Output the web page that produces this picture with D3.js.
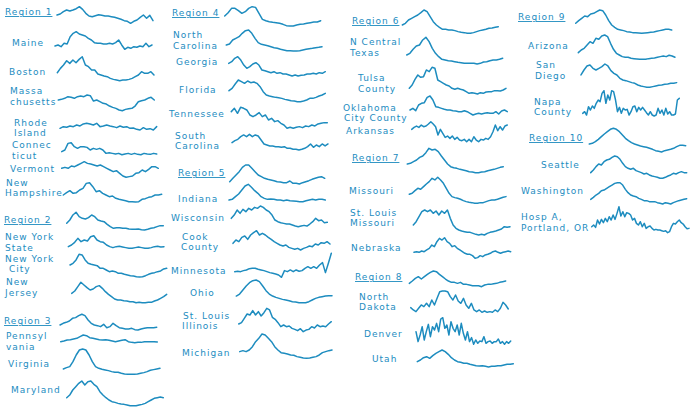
<!DOCTYPE html>
<html lang="en">
  <head>
    <meta charset="UTF-8" />
    <title>Flu sparklines by region</title>
    <script src="https://d3js.org/d3.v7.min.js"></script>
    <style>
      body { margin: 0; background: white; }
      text { font-family: "DejaVu Sans", Verdana, sans-serif; font-size: 9px; letter-spacing: 1px; fill: #1d8cbf; }
      .region { text-decoration: underline; }
      .spark { fill: none; stroke: #1d8cbf; stroke-width: 1.5; stroke-linejoin: round; stroke-linecap: round; }
    </style>
  </head>
  <body>
    <div class="visHolder"></div>

    <script>
      // ----------- Series values (weekly activity) ----------- //

      var region1 = [27,30,37,42,39,42,46,52,44,32,24,22,25,28,26,24,24,22,20,17,14,10,8,2,8,12,20,27,17,26,10];
      var maine = [12,15,10,20,18,40,50,55,48,45,42,35,30,22,20,20,18,18,20,18,22,30,15,2,8,5,10,8,12,10,20,10,15];
      var boston = [27,40,50,63,55,65,57,67,75,50,45,35,35,23,20,17,15,10,7,5,3,5,5,7,10,15,20,30,25,25,30,20];
      var massachusetts = [35,37,40,45,43,40,45,47,45,50,48,32,35,30,25,23,17,13,10,5,3,7,9,10,17,30,33,35,40,43,35];
      var rhodeIsland = [10,15,13,17,15,20,17,23,25,23,20,25,15,17,20,17,15,12,17,13,15,10,11,7,5,12,7,9,5,15];
      var connecticut = [13,18,38,40,28,23,28,28,26,18,23,20,23,18,8,10,8,6,8,4,6,8,5,8,5,4,8,6,5,8,6];
      var vermont = [30,33,30,37,35,40,45,50,45,43,40,37,40,35,30,25,20,23,15,7,3,5,7,15,17,25,20,27,35,35,30];
      var newHampshire = [25,32,38,30,32,40,45,60,62,50,35,38,30,25,20,22,15,12,10,8,5,5,4,5,12,14,18,20,25,25,27];

      var region2 = [20,30,45,53,40,35,33,37,45,40,30,27,25,17,10,5,7,7,5,5,3,2,2,3,1,0,2,5,7,10,13,13];
      var newYorkState = [5,10,18,30,20,25,22,35,38,25,20,18,10,5,2,5,6,4,2,0,0,2,4,2,0,0,2,5,6,4,5];
      var newYorkCity = [38,43,53,70,68,53,43,40,38,36,28,28,23,18,20,18,13,13,10,8,6,5,3,2,3,6,10,13,15,18,20,26,28];
      var newJersey = [30,37,50,63,55,47,40,43,50,53,45,35,27,20,13,10,10,8,7,5,5,2,3,2,2,3,3,7,10,15,20,27];

      var region3 = [15,20,23,27,35,37,43,47,43,30,20,15,13,10,17,7,10,20,13,7,5,3,3,5,1,0,3,5,7,7,7,8];
      var pennsylvania = [5,7,10,11,13,15,20,25,23,17,15,13,11,10,11,9,7,5,7,9,11,5,3,2,3,3,5,5,5,5,4];
      var virginia = [18,22,25,40,60,75,78,75,60,40,25,20,17,15,13,10,8,8,5,3,2,2,2,3,5,7,10,14,16,18,20];
      var maryland = [27,35,50,60,70,77,65,75,77,67,60,45,35,27,20,15,13,10,8,7,5,3,3,3,5,7,10,15,20,25,27,29,27];

      var region4 = [32,42,55,55,48,40,45,55,60,58,40,22,18,15,13,12,10,7,3,2,2,5,7,8,10,12,14,14,18];
      var northCarolina = [20,23,35,40,45,55,63,65,55,40,27,22,20,18,15,12,10,7,5,3,3,2,2,3,5,7,9,10,12,13,15];
      var georgia = [40,45,55,60,50,35,25,30,38,42,35,20,18,15,12,15,10,12,8,8,5,2,5,2,4,5,8,8,10,8,12,10,15];
      var florida = [36,43,56,68,63,58,65,60,62,58,48,33,23,20,18,16,15,13,10,8,6,5,3,3,5,8,13,13,16,20,23,28];
      var tennessee = [57,67,52,70,67,62,47,42,47,54,42,47,32,37,27,30,22,17,7,10,7,10,12,9,14,12,17,14,20,22,24,24];
      var southCarolina = [24,30,34,42,47,42,49,42,47,44,32,20,17,14,14,12,12,10,12,7,7,4,4,2,4,7,12,20,10,17,12,20,14,20];

      var region5 = [10,20,30,40,53,60,60,50,40,30,25,20,17,15,13,10,9,7,7,12,5,5,3,7,10,13,17,20,23,25,20];
      var indiana = [6,8,16,24,36,48,53,44,34,26,16,11,8,9,8,6,6,4,6,4,3,2,1,1,4,6,8,6,8,8,6];
      var wisconsin = [27,37,52,42,54,47,57,52,60,57,64,60,52,47,37,22,17,14,12,10,10,7,4,2,4,6,4,10,17,27,20,22,14,15];
      var cookCounty = [22,32,27,40,44,34,47,54,60,47,52,47,40,34,27,22,17,14,17,10,7,4,7,2,7,10,14,12,20,17,24,22,27,20];
      var minnesota = [17,18,17,20,22,26,27,27,24,22,20,17,14,12,10,7,0,20,17,22,17,22,18,20,27,32,27,32,27,37,44,14,42,72];
      var ohio = [22,28,40,52,62,68,70,65,52,38,28,22,18,15,12,10,8,5,4,2,2,2,5,10,15,18,20,22,23,23];
      var stLouisIllinois = [26,30,43,56,53,66,53,63,50,60,73,68,46,40,30,18,23,18,20,13,10,6,12,3,8,10,18,14,23,18,20,18,26,33];
      var michigan = [23,26,23,28,38,53,63,76,73,63,53,38,28,20,18,16,13,12,8,6,4,3,4,6,8,13,20,23,26,28];

      var region6 = [25,30,40,45,50,55,62,70,65,50,35,25,18,12,12,10,10,8,5,3,2,0,0,2,5,8,10,12,15,16,18,20];
      var nCentralTexas = [27,32,44,54,57,72,80,67,47,32,22,14,12,10,9,7,5,4,2,2,2,2,0,2,6,7,10,12,12,14,17];
      var tulsaCounty = [20,30,47,60,53,55,75,70,83,80,45,40,35,30,27,20,17,20,17,15,10,5,7,5,3,7,5,9,10,10,13,13,12,15,20];
      var oklahomaCity = [20,25,18,35,40,42,58,62,50,30,28,25,22,20,20,18,17,15,15,18,15,10,5,8,10,8,10,12,10,10,15,8,17,20,15];
      var arkansas = [37,43,47,43,50,45,47,53,60,53,45,20,37,25,13,17,10,17,7,13,5,3,7,0,7,0,15,5,0,7,5,10,7,15,30,50,33,45,35,47,50];

      var region7 = [28,30,35,40,48,52,62,75,70,72,65,52,40,28,20,17,15,12,10,8,5,4,2,2,4,5,8,10,12,15,18,20];
      var missouri = [27,30,38,45,42,50,58,65,75,70,78,70,60,45,30,20,17,15,12,8,5,3,2,0,0,2,2,5,8,10,10,12,15,18,20];
      var stLouisMissouri = [32,42,57,72,77,72,77,67,74,62,74,67,77,52,32,22,17,14,12,10,10,7,4,2,4,2,7,10,12,14,17,20,27,25,27];
      var nebraska = [23,25,23,27,25,30,35,45,40,55,65,60,67,55,50,40,43,35,30,25,20,17,17,13,5,7,13,10,15,17,20,25,27,23,20,23,25,27,25];

      var region8 = [10,17,25,30,23,30,37,43,47,45,37,30,23,17,13,13,10,13,7,7,5,3,3,3,0,5,7,7,9,10,13,15,17];
      var northDakota = [17,10,5,15,25,20,30,20,40,25,45,65,67,67,65,50,40,55,37,30,45,25,15,30,10,5,10,3,7,3,5,3,10,5,15,33,25,13];
      var denver = [40,10,30,55,15,40,62,25,55,45,65,40,78,82,50,60,30,70,50,40,60,30,65,35,15,40,10,22,2,15,5,12,10,25,5,10,12,5,10,10,18,5,10,2,10,5,12];
      var utah = [20,25,32,35,30,38,45,50,55,50,42,32,25,20,18,15,15,12,10,8,7,8,6,4,6,6,8,8,10,12,12,14];

      var region9 = [30,38,45,52,50,58,60,65,70,68,55,38,25,18,12,10,8,5,4,2,2,1,0,1,2,3,4,6,8,10,12,12,10];
      var arizona = [22,30,35,45,55,50,65,62,72,75,70,50,32,20,15,10,8,8,5,4,3,2,2,2,4,5,6,8,10,12,10,14,12,8];
      var sanDiego = [40,55,67,70,60,55,60,65,73,67,53,45,40,30,25,23,20,17,15,10,7,5,3,3,5,7,9,10,12,13,15,15,17];
      var napaCounty = [10,15,5,30,20,32,25,40,50,45,70,78,40,65,50,78,75,50,15,28,10,25,20,22,5,15,30,32,15,28,20,28,20,12,5,15,5,2,5,25,10,20,5,25,8,15,5,5,8,50,55];

      var region10 = [26,28,33,40,48,56,63,70,73,70,63,53,43,36,30,26,23,20,18,16,13,10,6,4,2,6,8,10,13,18,22,22,21];
      var seattle = [22,30,40,48,45,55,60,62,68,72,70,62,50,40,35,32,35,28,25,22,18,20,15,12,10,8,5,5,8,12,15,20,18,22,25,22,22];
      var washington = [17,23,30,35,43,45,50,55,60,65,67,67,60,47,37,30,27,25,20,17,13,13,10,10,10,7,5,3,7,5,3,7,10,13,15,17,19];
      var portland = [25,30,23,45,33,47,37,50,40,55,45,60,47,65,85,57,70,55,67,65,60,45,50,35,30,40,25,35,20,25,27,20,15,17,15,15,13,11,13,7,10,25,35,33,40,45,37,33,25,19,20];

      // ----------- Layout: label lines [text, x, baseline] and sparkline box [x0, x1, top, bottom] ----------- //

      var panels = [
        { values: region1, region: true, labels: [["Region 1", 5, 15]], box: [57, 153, 6.7, 23.3] },
        { values: maine, labels: [["Maine", 12, 46]], box: [55, 152, 31.7, 49.3] },
        { values: boston, labels: [["Boston", 9, 75]], box: [57.3, 154, 56.7, 80.7] },
        { values: massachusetts, labels: [["Massa", 10, 95], ["chusetts", 10, 104]], box: [58.3, 154.3, 95, 110.7] },
        { values: rhodeIsland, labels: [["Rhode", 14, 126], ["Island", 14, 136]], box: [60, 156.7, 123.3, 130] },
        { values: connecticut, labels: [["Connec", 12, 149], ["ticut", 12, 158]], box: [61.7, 156.7, 142.7, 154.7] },
        { values: vermont, labels: [["Vermont", 10, 172]], box: [61.7, 158.3, 161.7, 177.3] },
        { values: newHampshire, labels: [["New", 6, 186], ["Hampshire", 5, 196]], box: [63.3, 161.7, 182.7, 202] },

        { values: region2, region: true, labels: [["Region 2", 4, 223]], box: [66.7, 163.3, 212.3, 230] },
        { values: newYorkState, labels: [["New York", 5, 241], ["State", 5, 250]], box: [68.3, 164, 235.7, 248.3] },
        { values: newYorkCity, labels: [["New York", 5, 262], ["City", 9, 272]], box: [70, 166.7, 254.3, 277] },
        { values: newJersey, labels: [["New", 6, 285], ["Jersey", 5, 296]], box: [71.7, 166.7, 282.3, 302.7] },

        { values: region3, region: true, labels: [["Region 3", 4, 324]], box: [60, 156.7, 314.3, 330] },
        { values: pennsylvania, labels: [["Pennsyl", 6, 340], ["vania", 6, 349]], box: [60.7, 157.3, 335, 342.7] },
        { values: virginia, labels: [["Virginia", 8, 367]], box: [63.3, 160, 349, 374.3] },
        { values: maryland, labels: [["Maryland", 11, 393]], box: [66.7, 163.3, 381, 405.7] },

        { values: region4, region: true, labels: [["Region 4", 172, 16]], box: [224.7, 320.7, 6.7, 26] },
        { values: northCarolina, labels: [["North", 173, 39], ["Carolina", 173, 48]], box: [226.3, 322, 30, 51] },
        { values: georgia, labels: [["Georgia", 176, 65]], box: [228.7, 325.3, 56.7, 76] },
        { values: florida, labels: [["Florida", 179, 93]], box: [229, 325.3, 80, 101.7] },
        { values: tennessee, labels: [["Tennessee", 169, 117]], box: [231.3, 327.3, 107.3, 128.3] },
        { values: southCarolina, labels: [["South", 175, 140], ["Carolina", 175, 148]], box: [232, 328, 134.3, 150] },

        { values: region5, region: true, labels: [["Region 5", 178, 176]], box: [229.7, 324.7, 165, 184] },
        { values: indiana, labels: [["Indiana", 178, 202]], box: [229, 325.3, 184.3, 201.7] },
        { values: wisconsin, labels: [["Wisconsin", 171, 221]], box: [231.3, 327.3, 206, 226.7] },
        { values: cookCounty, labels: [["Cook", 182, 240], ["County", 181, 250]], box: [233, 330, 230.7, 250] },
        { values: minnesota, labels: [["Minnesota", 171, 274]], box: [234.7, 331.3, 253.3, 277.3] },
        { values: ohio, labels: [["Ohio", 190, 296]], box: [236.3, 332, 280, 302.7] },
        { values: stLouisIllinois, labels: [["St. Louis", 183, 319], ["Illinois", 182, 329]], box: [238.7, 331.3, 308.3, 331.7] },
        { values: michigan, labels: [["Michigan", 182, 356]], box: [239.7, 332, 334, 358.3] },

        { values: region6, region: true, labels: [["Region 6", 352, 24]], box: [402.3, 498.3, 10, 33.3] },
        { values: nCentralTexas, labels: [["N Central", 350, 46], ["Texas", 350, 55]], box: [406.7, 502.7, 37.3, 64] },
        { values: tulsaCounty, labels: [["Tulsa", 358, 82], ["County", 358, 91]], box: [409.3, 506, 67.3, 94] },
        { values: oklahomaCity, labels: [["Oklahoma", 343, 111], ["City County", 344, 121]], box: [410, 507.3, 96, 115] },
        { values: arkansas, labels: [["Arkansas", 346, 134]], box: [411.7, 507.3, 121.7, 141.7] },

        { values: region7, region: true, labels: [["Region 7", 352, 161]], box: [407.3, 503.3, 148.3, 172.7] },
        { values: missouri, labels: [["Missouri", 349, 194]], box: [409.3, 506, 177.3, 203.3] },
        { values: stLouisMissouri, labels: [["St. Louis", 350, 216], ["Missouri", 350, 226]], box: [413.3, 510, 210, 235] },
        { values: nebraska, labels: [["Nebraska", 351, 251]], box: [414, 510.7, 237.7, 258.3] },

        { values: region8, region: true, labels: [["Region 8", 355, 280]], box: [409.3, 505.7, 271, 286.7] },
        { values: northDakota, labels: [["North", 359, 300], ["Dakota", 359, 310]], box: [410.7, 508.3, 291, 312.3] },
        { values: denver, labels: [["Denver", 364, 337]], box: [416, 510.7, 317.7, 344.3] },
        { values: utah, labels: [["Utah", 372, 362]], box: [417.3, 513.3, 350, 367] },

        { values: region9, region: true, labels: [["Region 9", 518, 20]], box: [575.7, 671.7, 10, 33.3] },
        { values: arizona, labels: [["Arizona", 528, 49]], box: [578.3, 675, 35, 59.3] },
        { values: sanDiego, labels: [["San", 536, 69], ["Diego", 535, 78]], box: [581, 676.7, 64, 87.3] },
        { values: napaCounty, labels: [["Napa", 534, 105], ["County", 534, 115]], box: [582.7, 679.3, 90.7, 116] },

        { values: region10, region: true, labels: [["Region 10", 529, 141]], box: [589.3, 685.7, 128.3, 152] },
        { values: seattle, labels: [["Seattle", 541, 168]], box: [590.7, 686.7, 156, 178.3] },
        { values: washington, labels: [["Washington", 521, 194]], box: [590.7, 686.7, 182.7, 204] },
        { values: portland, labels: [["Hosp A,", 521, 220], ["Portland, OR", 521, 231]], box: [591.7, 689, 206.7, 232.7] }
      ];

      // ----------- Main SVG ----------- //

      var width = 700;
      var height = 420;
      var lineGap = 10.6; // two-line labels are spread evenly round their middle

      var svgContainer = d3.select(".visHolder")
        .append("svg")
        .attr("width", width)
        .attr("height", height);

      // ----------- Panels ----------- //

      panels.forEach(function(p) {
        var g = svgContainer.append("g");

        var xScale = d3.scaleLinear()
          .domain([0, p.values.length - 1])
          .range([p.box[0], p.box[1]]);

        var yScale = d3.scaleLinear()
          .domain(d3.extent(p.values))
          .range([p.box[3], p.box[2]]);

        var line = d3.line()
          .x((d, i) => xScale(i))
          .y(d => yScale(d));

        g.append("path")
          .datum(p.values)
          .attr("class", "spark")
          .attr("d", line);

        var mid = d3.mean(p.labels, d => d[2]);
        var n = p.labels.length;

        g.selectAll("text")
          .data(p.labels)
          .enter()
          .append("text")
            .attr("class", p.region ? "region" : null)
            .attr("x", d => d[1])
            .attr("y", (d, i) => mid + (i - (n - 1) / 2) * lineGap)
            .text(d => d[0]);
      });
    </script>
  </body>
</html>
